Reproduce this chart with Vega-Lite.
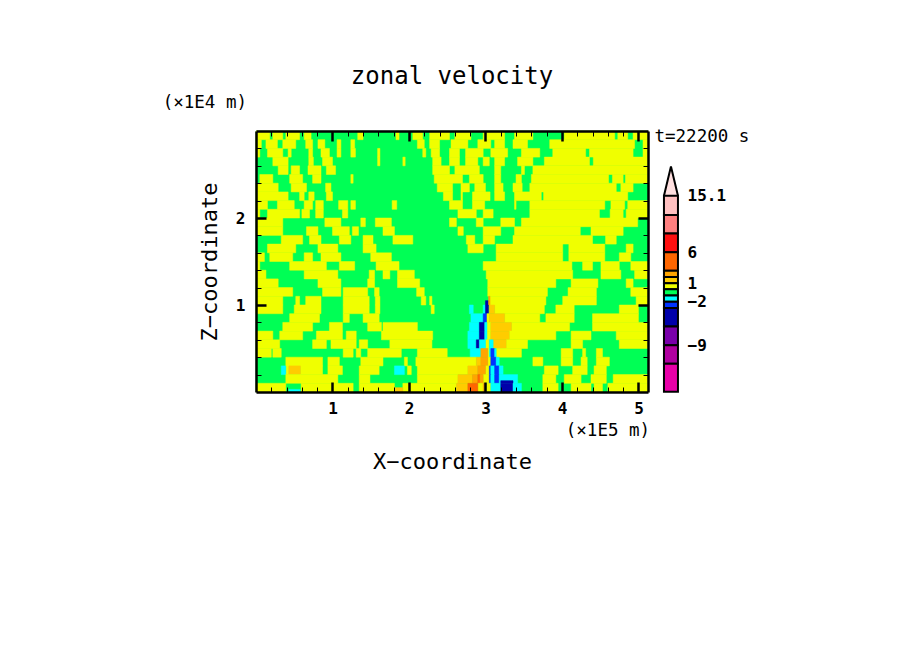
{"$schema":"https://vega.github.io/schema/vega-lite/v6.json","width":392,"height":261,"autosize":{"type":"none"},"padding":{"left":256,"top":131,"right":256,"bottom":262},"background":"white","config":{"view":{"stroke":null},"axis":{"grid":false,"labelFont":"DejaVu Sans Mono","titleFont":"DejaVu Sans Mono","labelColor":"black","titleColor":"black","tickColor":"black","domainColor":"black","labelFontWeight":"bold"}},"title":{"text":"zonal velocity","font":"DejaVu Sans Mono","fontSize":24,"fontWeight":"normal","anchor":"middle","offset":5,"color":"black"},"datasets":{"field":[
{"x0":0,"x1":5.125,"z0":0,"z1":3,"u":-0.5},
{"x0":0,"x1":0.18,"z0":2.9,"z1":3,"u":0.5},{"x0":0.22,"x1":0.35,"z0":2.9,"z1":3,"u":0.5},{"x0":0.39,"x1":0.57,"z0":2.9,"z1":3,"u":0.5},{"x0":0.63,"x1":0.72,"z0":2.9,"z1":3,"u":0.5},{"x0":1.33,"x1":1.4,"z0":2.9,"z1":3,"u":0.5},{"x0":1.83,"x1":1.87,"z0":2.9,"z1":3,"u":0.5},{"x0":2.05,"x1":2.18,"z0":2.9,"z1":3,"u":0.5},{"x0":2.27,"x1":2.53,"z0":2.9,"z1":3,"u":0.5},{"x0":2.6,"x1":2.81,"z0":2.9,"z1":3,"u":0.5},{"x0":2.97,"x1":3.25,"z0":2.9,"z1":3,"u":0.5},{"x0":3.38,"x1":3.62,"z0":2.9,"z1":3,"u":0.5},{"x0":4.03,"x1":4.69,"z0":2.9,"z1":3,"u":0.5},{"x0":4.73,"x1":4.86,"z0":2.9,"z1":3,"u":0.5},{"x0":4.93,"x1":5.125,"z0":2.9,"z1":3,"u":0.5},
{"x0":0,"x1":0.07,"z0":2.8,"z1":2.9,"u":0.5},{"x0":0.13,"x1":0.28,"z0":2.8,"z1":2.9,"u":0.5},{"x0":0.35,"x1":0.52,"z0":2.8,"z1":2.9,"u":0.5},{"x0":0.65,"x1":0.74,"z0":2.8,"z1":2.9,"u":0.5},{"x0":0.81,"x1":0.9,"z0":2.8,"z1":2.9,"u":0.5},{"x0":1.06,"x1":1.11,"z0":2.8,"z1":2.9,"u":0.5},{"x0":1.24,"x1":1.29,"z0":2.8,"z1":2.9,"u":0.5},{"x0":2.11,"x1":2.2,"z0":2.8,"z1":2.9,"u":0.5},{"x0":2.27,"x1":2.4,"z0":2.8,"z1":2.9,"u":0.5},{"x0":2.55,"x1":2.77,"z0":2.8,"z1":2.9,"u":0.5},{"x0":2.9,"x1":3.07,"z0":2.8,"z1":2.9,"u":0.5},{"x0":3.12,"x1":3.25,"z0":2.8,"z1":2.9,"u":0.5},{"x0":3.36,"x1":3.55,"z0":2.8,"z1":2.9,"u":0.5},{"x0":3.84,"x1":4.95,"z0":2.8,"z1":2.9,"u":0.5},{"x0":5.06,"x1":5.125,"z0":2.8,"z1":2.9,"u":0.5},
{"x0":0,"x1":0.05,"z0":2.7,"z1":2.8,"u":0.5},{"x0":0.15,"x1":0.35,"z0":2.7,"z1":2.8,"u":0.5},{"x0":0.42,"x1":0.46,"z0":2.7,"z1":2.8,"u":0.5},{"x0":0.69,"x1":0.74,"z0":2.7,"z1":2.8,"u":0.5},{"x0":0.85,"x1":0.96,"z0":2.7,"z1":2.8,"u":0.5},{"x0":1.06,"x1":1.11,"z0":2.7,"z1":2.8,"u":0.5},{"x0":1.24,"x1":1.3,"z0":2.7,"z1":2.8,"u":0.5},{"x0":1.59,"x1":1.62,"z0":2.7,"z1":2.8,"u":0.5},{"x0":2.18,"x1":2.22,"z0":2.7,"z1":2.8,"u":0.5},{"x0":2.29,"x1":2.4,"z0":2.7,"z1":2.8,"u":0.5},{"x0":2.53,"x1":2.66,"z0":2.7,"z1":2.8,"u":0.5},{"x0":2.74,"x1":2.97,"z0":2.7,"z1":2.8,"u":0.5},{"x0":3.07,"x1":3.29,"z0":2.7,"z1":2.8,"u":0.5},{"x0":3.47,"x1":3.71,"z0":2.7,"z1":2.8,"u":0.5},{"x0":3.88,"x1":4.31,"z0":2.7,"z1":2.8,"u":0.5},{"x0":4.36,"x1":4.93,"z0":2.7,"z1":2.8,"u":0.5},{"x0":5.06,"x1":5.125,"z0":2.7,"z1":2.8,"u":0.5},
{"x0":0.22,"x1":0.42,"z0":2.6,"z1":2.7,"u":0.5},{"x0":0.69,"x1":0.75,"z0":2.6,"z1":2.7,"u":0.5},{"x0":0.87,"x1":1,"z0":2.6,"z1":2.7,"u":0.5},{"x0":1.59,"x1":1.62,"z0":2.6,"z1":2.7,"u":0.5},{"x0":1.92,"x1":1.95,"z0":2.6,"z1":2.7,"u":0.5},{"x0":2.31,"x1":2.42,"z0":2.6,"z1":2.7,"u":0.5},{"x0":2.53,"x1":2.66,"z0":2.6,"z1":2.7,"u":0.5},{"x0":2.74,"x1":2.9,"z0":2.6,"z1":2.7,"u":0.5},{"x0":2.97,"x1":3.05,"z0":2.6,"z1":2.7,"u":0.5},{"x0":3.12,"x1":3.25,"z0":2.6,"z1":2.7,"u":0.5},{"x0":3.42,"x1":3.62,"z0":2.6,"z1":2.7,"u":0.5},{"x0":3.77,"x1":4.36,"z0":2.6,"z1":2.7,"u":0.5},{"x0":4.41,"x1":5.125,"z0":2.6,"z1":2.7,"u":0.5},
{"x0":0.29,"x1":0.42,"z0":2.5,"z1":2.6,"u":0.5},{"x0":0.46,"x1":0.57,"z0":2.5,"z1":2.6,"u":0.5},{"x0":0.68,"x1":0.85,"z0":2.5,"z1":2.6,"u":0.5},{"x0":0.92,"x1":1.04,"z0":2.5,"z1":2.6,"u":0.5},{"x0":2.31,"x1":2.53,"z0":2.5,"z1":2.6,"u":0.5},{"x0":2.6,"x1":2.92,"z0":2.5,"z1":2.6,"u":0.5},{"x0":3.12,"x1":3.2,"z0":2.5,"z1":2.6,"u":0.5},{"x0":3.47,"x1":3.51,"z0":2.5,"z1":2.6,"u":0.5},{"x0":3.62,"x1":5.125,"z0":2.5,"z1":2.6,"u":0.5},
{"x0":0.05,"x1":0.22,"z0":2.4,"z1":2.5,"u":0.5},{"x0":0.44,"x1":0.61,"z0":2.4,"z1":2.5,"u":0.5},{"x0":0.74,"x1":0.85,"z0":2.4,"z1":2.5,"u":0.5},{"x0":1.24,"x1":1.27,"z0":2.4,"z1":2.5,"u":0.5},{"x0":2.33,"x1":2.7,"z0":2.4,"z1":2.5,"u":0.5},{"x0":2.79,"x1":2.97,"z0":2.4,"z1":2.5,"u":0.5},{"x0":3.12,"x1":3.2,"z0":2.4,"z1":2.5,"u":0.5},{"x0":3.4,"x1":3.47,"z0":2.4,"z1":2.5,"u":0.5},{"x0":3.6,"x1":4.61,"z0":2.4,"z1":2.5,"u":0.5},{"x0":4.66,"x1":4.8,"z0":2.4,"z1":2.5,"u":0.5},{"x0":4.83,"x1":5.125,"z0":2.4,"z1":2.5,"u":0.5},
{"x0":0,"x1":0.29,"z0":2.3,"z1":2.4,"u":0.5},{"x0":0.46,"x1":0.66,"z0":2.3,"z1":2.4,"u":0.5},{"x0":0.91,"x1":0.98,"z0":2.3,"z1":2.4,"u":0.5},{"x0":2.37,"x1":2.57,"z0":2.3,"z1":2.4,"u":0.5},{"x0":2.68,"x1":2.79,"z0":2.3,"z1":2.4,"u":0.5},{"x0":2.86,"x1":3,"z0":2.3,"z1":2.4,"u":0.5},{"x0":3.12,"x1":3.23,"z0":2.3,"z1":2.4,"u":0.5},{"x0":3.36,"x1":3.48,"z0":2.3,"z1":2.4,"u":0.5},{"x0":3.58,"x1":4.71,"z0":2.3,"z1":2.4,"u":0.5},{"x0":4.77,"x1":4.93,"z0":2.3,"z1":2.4,"u":0.5},
{"x0":0,"x1":0.42,"z0":2.2,"z1":2.3,"u":0.5},{"x0":0.57,"x1":0.63,"z0":2.2,"z1":2.3,"u":0.5},{"x0":0.69,"x1":0.76,"z0":2.2,"z1":2.3,"u":0.5},{"x0":0.92,"x1":1,"z0":2.2,"z1":2.3,"u":0.5},{"x0":2.45,"x1":2.57,"z0":2.2,"z1":2.3,"u":0.5},{"x0":2.68,"x1":2.7,"z0":2.2,"z1":2.3,"u":0.5},{"x0":2.83,"x1":3.06,"z0":2.2,"z1":2.3,"u":0.5},{"x0":3.12,"x1":3.25,"z0":2.2,"z1":2.3,"u":0.5},{"x0":3.38,"x1":3.73,"z0":2.2,"z1":2.3,"u":0.5},{"x0":3.76,"x1":4.86,"z0":2.2,"z1":2.3,"u":0.5},
{"x0":0,"x1":0.15,"z0":2.1,"z1":2.2,"u":0.5},{"x0":0.28,"x1":0.5,"z0":2.1,"z1":2.2,"u":0.5},{"x0":0.63,"x1":0.74,"z0":2.1,"z1":2.2,"u":0.5},{"x0":0.78,"x1":0.88,"z0":2.1,"z1":2.2,"u":0.5},{"x0":1.08,"x1":1.2,"z0":2.1,"z1":2.2,"u":0.5},{"x0":1.24,"x1":1.3,"z0":2.1,"z1":2.2,"u":0.5},{"x0":1.78,"x1":1.84,"z0":2.1,"z1":2.2,"u":0.5},{"x0":2.53,"x1":2.7,"z0":2.1,"z1":2.2,"u":0.5},{"x0":2.83,"x1":2.99,"z0":2.1,"z1":2.2,"u":0.5},{"x0":3.38,"x1":3.4,"z0":2.1,"z1":2.2,"u":0.5},{"x0":3.58,"x1":4.56,"z0":2.1,"z1":2.2,"u":0.5},{"x0":4.64,"x1":4.82,"z0":2.1,"z1":2.2,"u":0.5},{"x0":4.86,"x1":5.125,"z0":2.1,"z1":2.2,"u":0.5},
{"x0":0,"x1":0.05,"z0":2,"z1":2.1,"u":0.5},{"x0":0.15,"x1":0.57,"z0":2,"z1":2.1,"u":0.5},{"x0":0.6,"x1":0.7,"z0":2,"z1":2.1,"u":0.5},{"x0":0.78,"x1":0.88,"z0":2,"z1":2.1,"u":0.5},{"x0":1.13,"x1":1.2,"z0":2,"z1":2.1,"u":0.5},{"x0":2.64,"x1":2.88,"z0":2,"z1":2.1,"u":0.5},{"x0":2.97,"x1":3.1,"z0":2,"z1":2.1,"u":0.5},{"x0":3.58,"x1":4.49,"z0":2,"z1":2.1,"u":0.5},{"x0":4.63,"x1":4.8,"z0":2,"z1":2.1,"u":0.5},{"x0":4.84,"x1":5.125,"z0":2,"z1":2.1,"u":0.5},
{"x0":0,"x1":0.35,"z0":1.9,"z1":2,"u":0.5},{"x0":0.9,"x1":1.11,"z0":1.9,"z1":2,"u":0.5},{"x0":1.37,"x1":1.43,"z0":1.9,"z1":2,"u":0.5},{"x0":1.56,"x1":1.77,"z0":1.9,"z1":2,"u":0.5},{"x0":2.53,"x1":2.62,"z0":1.9,"z1":2,"u":0.5},{"x0":2.88,"x1":2.97,"z0":1.9,"z1":2,"u":0.5},{"x0":3.2,"x1":3.38,"z0":1.9,"z1":2,"u":0.5},{"x0":3.47,"x1":4.99,"z0":1.9,"z1":2,"u":0.5},
{"x0":0,"x1":0.35,"z0":1.8,"z1":1.9,"u":0.5},{"x0":0.66,"x1":0.81,"z0":1.8,"z1":1.9,"u":0.5},{"x0":1,"x1":1.22,"z0":1.8,"z1":1.9,"u":0.5},{"x0":1.26,"x1":1.34,"z0":1.8,"z1":1.9,"u":0.5},{"x0":1.66,"x1":1.81,"z0":1.8,"z1":1.9,"u":0.5},{"x0":2.64,"x1":2.71,"z0":1.8,"z1":1.9,"u":0.5},{"x0":2.97,"x1":3.2,"z0":1.8,"z1":1.9,"u":0.5},{"x0":3.38,"x1":4.24,"z0":1.8,"z1":1.9,"u":0.5},{"x0":4.38,"x1":4.8,"z0":1.8,"z1":1.9,"u":0.5},
{"x0":0.33,"x1":0.61,"z0":1.7,"z1":1.8,"u":0.5},{"x0":0.7,"x1":0.85,"z0":1.7,"z1":1.8,"u":0.5},{"x0":1.09,"x1":1.24,"z0":1.7,"z1":1.8,"u":0.5},{"x0":1.4,"x1":1.53,"z0":1.7,"z1":1.8,"u":0.5},{"x0":1.79,"x1":2.05,"z0":1.7,"z1":1.8,"u":0.5},{"x0":2.75,"x1":2.86,"z0":1.7,"z1":1.8,"u":0.5},{"x0":2.97,"x1":3.12,"z0":1.7,"z1":1.8,"u":0.5},{"x0":3.36,"x1":4.4,"z0":1.7,"z1":1.8,"u":0.5},{"x0":4.57,"x1":4.71,"z0":1.7,"z1":1.8,"u":0.5},
{"x0":0.15,"x1":0.52,"z0":1.6,"z1":1.7,"u":0.5},{"x0":0.81,"x1":1.07,"z0":1.6,"z1":1.7,"u":0.5},{"x0":1.4,"x1":1.57,"z0":1.6,"z1":1.7,"u":0.5},{"x0":2.77,"x1":2.97,"z0":1.6,"z1":1.7,"u":0.5},{"x0":3.14,"x1":4.01,"z0":1.6,"z1":1.7,"u":0.5},{"x0":4.09,"x1":4.56,"z0":1.6,"z1":1.7,"u":0.5},{"x0":4.84,"x1":4.93,"z0":1.6,"z1":1.7,"u":0.5},
{"x0":0,"x1":0.11,"z0":1.5,"z1":1.6,"u":0.5},{"x0":0.18,"x1":0.48,"z0":1.5,"z1":1.6,"u":0.5},{"x0":0.63,"x1":0.74,"z0":1.5,"z1":1.6,"u":0.5},{"x0":0.85,"x1":1.11,"z0":1.5,"z1":1.6,"u":0.5},{"x0":1.5,"x1":1.77,"z0":1.5,"z1":1.6,"u":0.5},{"x0":3.14,"x1":4.01,"z0":1.5,"z1":1.6,"u":0.5},{"x0":4.09,"x1":4.56,"z0":1.5,"z1":1.6,"u":0.5},{"x0":4.75,"x1":4.9,"z0":1.5,"z1":1.6,"u":0.5},
{"x0":0,"x1":0.05,"z0":1.4,"z1":1.5,"u":0.5},{"x0":0.44,"x1":0.92,"z0":1.4,"z1":1.5,"u":0.5},{"x0":1.09,"x1":1.29,"z0":1.4,"z1":1.5,"u":0.5},{"x0":1.57,"x1":1.87,"z0":1.4,"z1":1.5,"u":0.5},{"x0":2.97,"x1":4.13,"z0":1.4,"z1":1.5,"u":0.5},{"x0":4.27,"x1":4.4,"z0":1.4,"z1":1.5,"u":0.5},{"x0":4.51,"x1":4.75,"z0":1.4,"z1":1.5,"u":0.5},{"x0":4.9,"x1":5.125,"z0":1.4,"z1":1.5,"u":0.5},
{"x0":0,"x1":0.13,"z0":1.3,"z1":1.4,"u":0.5},{"x0":0.63,"x1":1.07,"z0":1.3,"z1":1.4,"u":0.5},{"x0":1.48,"x1":1.55,"z0":1.3,"z1":1.4,"u":0.5},{"x0":1.66,"x1":1.75,"z0":1.3,"z1":1.4,"u":0.5},{"x0":1.85,"x1":2.07,"z0":1.3,"z1":1.4,"u":0.5},{"x0":3.01,"x1":4.14,"z0":1.3,"z1":1.4,"u":0.5},{"x0":4.51,"x1":4.77,"z0":1.3,"z1":1.4,"u":0.5},{"x0":4.95,"x1":5.125,"z0":1.3,"z1":1.4,"u":0.5},
{"x0":0,"x1":0.29,"z0":1.2,"z1":1.3,"u":0.5},{"x0":0.81,"x1":1.11,"z0":1.2,"z1":1.3,"u":0.5},{"x0":1.46,"x1":1.55,"z0":1.2,"z1":1.3,"u":0.5},{"x0":1.85,"x1":2.14,"z0":1.2,"z1":1.3,"u":0.5},{"x0":3.03,"x1":3.92,"z0":1.2,"z1":1.3,"u":0.5},{"x0":4.12,"x1":4.47,"z0":1.2,"z1":1.3,"u":0.5},{"x0":4.84,"x1":4.93,"z0":1.2,"z1":1.3,"u":0.5},
{"x0":0,"x1":0.48,"z0":1.1,"z1":1.2,"u":0.5},{"x0":0.87,"x1":1.11,"z0":1.1,"z1":1.2,"u":0.5},{"x0":1.14,"x1":1.46,"z0":1.1,"z1":1.2,"u":0.5},{"x0":1.55,"x1":1.61,"z0":1.1,"z1":1.2,"u":0.5},{"x0":2.1,"x1":2.2,"z0":1.1,"z1":1.2,"u":0.5},{"x0":3.03,"x1":3.81,"z0":1.1,"z1":1.2,"u":0.5},{"x0":4.08,"x1":4.45,"z0":1.1,"z1":1.2,"u":0.5},{"x0":4.9,"x1":5.125,"z0":1.1,"z1":1.2,"u":0.5},
{"x0":0,"x1":0.35,"z0":1,"z1":1.1,"u":0.5},{"x0":0.52,"x1":0.57,"z0":1,"z1":1.1,"u":0.5},{"x0":0.65,"x1":0.85,"z0":1,"z1":1.1,"u":0.5},{"x0":1.14,"x1":1.48,"z0":1,"z1":1.1,"u":0.5},{"x0":1.56,"x1":1.62,"z0":1,"z1":1.1,"u":0.5},{"x0":2.16,"x1":2.22,"z0":1,"z1":1.1,"u":0.5},{"x0":2.27,"x1":2.3,"z0":1,"z1":1.1,"u":0.5},{"x0":3.05,"x1":3.79,"z0":1,"z1":1.1,"u":0.5},{"x0":4.01,"x1":4.45,"z0":1,"z1":1.1,"u":0.5},{"x0":4.97,"x1":5.125,"z0":1,"z1":1.1,"u":0.5},{"x0":3,"x1":3.04,"z0":1,"z1":1.05,"u":-4},{"x0":3.04,"x1":3.06,"z0":1,"z1":1.1,"u":2.5},
{"x0":0,"x1":0.35,"z0":0.9,"z1":1,"u":0.5},{"x0":0.5,"x1":0.85,"z0":0.9,"z1":1,"u":0.5},{"x0":1.14,"x1":1.48,"z0":0.9,"z1":1,"u":0.5},{"x0":1.56,"x1":1.62,"z0":0.9,"z1":1,"u":0.5},{"x0":2.29,"x1":2.33,"z0":0.9,"z1":1,"u":0.5},{"x0":3.12,"x1":3.77,"z0":0.9,"z1":1,"u":0.5},{"x0":3.92,"x1":4.16,"z0":0.9,"z1":1,"u":0.5},{"x0":4.75,"x1":5,"z0":0.9,"z1":1,"u":0.5},{"x0":2.79,"x1":2.84,"z0":0.9,"z1":1,"u":-1.5},{"x0":2.97,"x1":3,"z0":0.9,"z1":1,"u":-1.5},{"x0":3,"x1":3.04,"z0":0.9,"z1":1,"u":-4},{"x0":3.05,"x1":3.12,"z0":0.9,"z1":1,"u":1.5},
{"x0":0.44,"x1":0.83,"z0":0.8,"z1":0.9,"u":0.5},{"x0":1.14,"x1":1.22,"z0":0.8,"z1":0.9,"u":0.5},{"x0":1.4,"x1":1.61,"z0":0.8,"z1":0.9,"u":0.5},{"x0":3.25,"x1":3.71,"z0":0.8,"z1":0.9,"u":0.5},{"x0":3.79,"x1":4.16,"z0":0.8,"z1":0.9,"u":0.5},{"x0":4.4,"x1":5,"z0":0.8,"z1":0.9,"u":0.5},{"x0":2.81,"x1":2.97,"z0":0.8,"z1":0.9,"u":-1.5},{"x0":2.97,"x1":3.02,"z0":0.8,"z1":0.9,"u":-2.5},{"x0":3.02,"x1":3.05,"z0":0.8,"z1":0.9,"u":0.5},{"x0":3.05,"x1":3.25,"z0":0.8,"z1":0.9,"u":1.5},
{"x0":0.35,"x1":0.74,"z0":0.7,"z1":0.8,"u":0.5},{"x0":0.96,"x1":1.13,"z0":0.7,"z1":0.8,"u":0.5},{"x0":1.46,"x1":1.64,"z0":0.7,"z1":0.8,"u":0.5},{"x0":1.66,"x1":2.11,"z0":0.7,"z1":0.8,"u":0.5},{"x0":3.02,"x1":3.07,"z0":0.7,"z1":0.8,"u":0.5},{"x0":3.34,"x1":4.1,"z0":0.7,"z1":0.8,"u":0.5},{"x0":4.4,"x1":5.125,"z0":0.7,"z1":0.8,"u":0.5},{"x0":3.07,"x1":3.34,"z0":0.7,"z1":0.8,"u":1.5},{"x0":2.79,"x1":2.92,"z0":0.7,"z1":0.8,"u":-1.5},{"x0":2.92,"x1":2.99,"z0":0.7,"z1":0.8,"u":-4},{"x0":2.99,"x1":3.02,"z0":0.7,"z1":0.8,"u":-1.5},
{"x0":0,"x1":0.22,"z0":0.6,"z1":0.7,"u":0.5},{"x0":0.31,"x1":0.61,"z0":0.6,"z1":0.7,"u":0.5},{"x0":0.79,"x1":1.13,"z0":0.6,"z1":0.7,"u":0.5},{"x0":1.18,"x1":1.31,"z0":0.6,"z1":0.7,"u":0.5},{"x0":1.64,"x1":2.31,"z0":0.6,"z1":0.7,"u":0.5},{"x0":3.02,"x1":3.07,"z0":0.6,"z1":0.7,"u":0.5},{"x0":3.31,"x1":3.92,"z0":0.6,"z1":0.7,"u":0.5},{"x0":4.12,"x1":4.38,"z0":0.6,"z1":0.7,"u":0.5},{"x0":4.71,"x1":5.125,"z0":0.6,"z1":0.7,"u":0.5},{"x0":3.07,"x1":3.31,"z0":0.6,"z1":0.7,"u":1.5},{"x0":2.77,"x1":2.92,"z0":0.6,"z1":0.7,"u":-1.5},{"x0":2.92,"x1":2.99,"z0":0.6,"z1":0.7,"u":-4},{"x0":2.99,"x1":3.02,"z0":0.6,"z1":0.7,"u":-1.5},
{"x0":0,"x1":0.31,"z0":0.5,"z1":0.6,"u":0.5},{"x0":0.74,"x1":0.92,"z0":0.5,"z1":0.6,"u":0.5},{"x0":0.98,"x1":1.31,"z0":0.5,"z1":0.6,"u":0.5},{"x0":1.35,"x1":1.46,"z0":0.5,"z1":0.6,"u":0.5},{"x0":1.75,"x1":2.3,"z0":0.5,"z1":0.6,"u":0.5},{"x0":3,"x1":3.05,"z0":0.5,"z1":0.6,"u":0.5},{"x0":3.27,"x1":3.55,"z0":0.5,"z1":0.6,"u":0.5},{"x0":4.12,"x1":4.27,"z0":0.5,"z1":0.6,"u":0.5},{"x0":4.75,"x1":5.125,"z0":0.5,"z1":0.6,"u":0.5},{"x0":3.1,"x1":3.27,"z0":0.5,"z1":0.6,"u":1.5},{"x0":2.77,"x1":2.88,"z0":0.5,"z1":0.6,"u":-1.5},{"x0":2.88,"x1":2.92,"z0":0.5,"z1":0.6,"u":-4},{"x0":2.92,"x1":3,"z0":0.5,"z1":0.6,"u":-1.5},{"x0":3.05,"x1":3.1,"z0":0.5,"z1":0.6,"u":-1.5},
{"x0":0,"x1":0.2,"z0":0.4,"z1":0.5,"u":0.5},{"x0":0.22,"x1":0.33,"z0":0.4,"z1":0.5,"u":0.5},{"x0":1.14,"x1":1.27,"z0":0.4,"z1":0.5,"u":0.5},{"x0":1.31,"x1":1.37,"z0":0.4,"z1":0.5,"u":0.5},{"x0":1.46,"x1":1.9,"z0":0.4,"z1":0.5,"u":0.5},{"x0":2.11,"x1":2.5,"z0":0.4,"z1":0.5,"u":0.5},{"x0":3.03,"x1":3.05,"z0":0.4,"z1":0.5,"u":0.5},{"x0":3.14,"x1":3.47,"z0":0.4,"z1":0.5,"u":0.5},{"x0":3.99,"x1":4.14,"z0":0.4,"z1":0.5,"u":0.5},{"x0":4.27,"x1":4.31,"z0":0.4,"z1":0.5,"u":0.5},{"x0":4.45,"x1":4.53,"z0":0.4,"z1":0.5,"u":0.5},{"x0":2.8,"x1":2.94,"z0":0.4,"z1":0.5,"u":-1.5},{"x0":2.94,"x1":3.03,"z0":0.4,"z1":0.5,"u":2.5},{"x0":3.05,"x1":3.07,"z0":0.4,"z1":0.5,"u":-1.5},{"x0":3.07,"x1":3.12,"z0":0.4,"z1":0.5,"u":-2.5},{"x0":3.12,"x1":3.14,"z0":0.4,"z1":0.5,"u":-1.5},
{"x0":0.39,"x1":0.87,"z0":0.3,"z1":0.4,"u":0.5},{"x0":0.94,"x1":1.09,"z0":0.3,"z1":0.4,"u":0.5},{"x0":1.37,"x1":1.66,"z0":0.3,"z1":0.4,"u":0.5},{"x0":1.94,"x1":1.98,"z0":0.3,"z1":0.4,"u":0.5},{"x0":2.09,"x1":2.88,"z0":0.3,"z1":0.4,"u":0.5},{"x0":3.03,"x1":3.07,"z0":0.3,"z1":0.4,"u":0.5},{"x0":3.62,"x1":3.75,"z0":0.3,"z1":0.4,"u":0.5},{"x0":3.99,"x1":4.14,"z0":0.3,"z1":0.4,"u":0.5},{"x0":4.25,"x1":4.33,"z0":0.3,"z1":0.4,"u":0.5},{"x0":4.45,"x1":4.62,"z0":0.3,"z1":0.4,"u":0.5},{"x0":2.88,"x1":2.94,"z0":0.3,"z1":0.4,"u":1.5},{"x0":2.94,"x1":3.03,"z0":0.3,"z1":0.4,"u":2.5},{"x0":3.07,"x1":3.14,"z0":0.3,"z1":0.4,"u":-2.5},{"x0":3.14,"x1":3.18,"z0":0.3,"z1":0.4,"u":-1.5},
{"x0":0.39,"x1":0.43,"z0":0.2,"z1":0.3,"u":0.5},{"x0":0.58,"x1":0.87,"z0":0.2,"z1":0.3,"u":0.5},{"x0":0.94,"x1":1.13,"z0":0.2,"z1":0.3,"u":0.5},{"x0":1.35,"x1":1.61,"z0":0.2,"z1":0.3,"u":0.5},{"x0":1.98,"x1":2.03,"z0":0.2,"z1":0.3,"u":0.5},{"x0":2.11,"x1":2.77,"z0":0.2,"z1":0.3,"u":0.5},{"x0":3,"x1":3.05,"z0":0.2,"z1":0.3,"u":0.5},{"x0":3.77,"x1":3.95,"z0":0.2,"z1":0.3,"u":0.5},{"x0":4.14,"x1":4.33,"z0":0.2,"z1":0.3,"u":0.5},{"x0":4.42,"x1":4.58,"z0":0.2,"z1":0.3,"u":0.5},{"x0":0.43,"x1":0.58,"z0":0.2,"z1":0.3,"u":1.5},{"x0":0.33,"x1":0.39,"z0":0.2,"z1":0.3,"u":-1.5},{"x0":1.81,"x1":1.94,"z0":0.2,"z1":0.3,"u":-1.5},{"x0":2.77,"x1":2.9,"z0":0.2,"z1":0.3,"u":1.5},{"x0":2.9,"x1":3,"z0":0.2,"z1":0.3,"u":2.5},{"x0":3.05,"x1":3.07,"z0":0.2,"z1":0.3,"u":-2.5},{"x0":3.07,"x1":3.12,"z0":0.2,"z1":0.3,"u":-1.5},{"x0":3.12,"x1":3.18,"z0":0.2,"z1":0.3,"u":-2.5},{"x0":3.18,"x1":3.23,"z0":0.2,"z1":0.3,"u":-1.5},
{"x0":0.39,"x1":1.07,"z0":0.1,"z1":0.2,"u":0.5},{"x0":1.35,"x1":1.49,"z0":0.1,"z1":0.2,"u":0.5},{"x0":2.11,"x1":2.64,"z0":0.1,"z1":0.2,"u":0.5},{"x0":2.97,"x1":3.05,"z0":0.1,"z1":0.2,"u":0.5},{"x0":3.75,"x1":3.92,"z0":0.1,"z1":0.2,"u":0.5},{"x0":4.03,"x1":4.25,"z0":0.1,"z1":0.2,"u":0.5},{"x0":4.38,"x1":4.58,"z0":0.1,"z1":0.2,"u":0.5},{"x0":4.67,"x1":5.125,"z0":0.1,"z1":0.2,"u":0.5},{"x0":2.64,"x1":2.83,"z0":0.1,"z1":0.2,"u":1.5},{"x0":2.83,"x1":2.9,"z0":0.1,"z1":0.2,"u":2.5},{"x0":2.9,"x1":2.93,"z0":0.1,"z1":0.2,"u":4},{"x0":2.93,"x1":2.97,"z0":0.1,"z1":0.2,"u":2.5},{"x0":3.05,"x1":3.07,"z0":0.1,"z1":0.2,"u":-2.5},{"x0":3.07,"x1":3.12,"z0":0.1,"z1":0.2,"u":-1.5},{"x0":3.12,"x1":3.18,"z0":0.1,"z1":0.2,"u":-2.5},{"x0":3.18,"x1":3.42,"z0":0.1,"z1":0.2,"u":-1.5},{"x0":3.2,"x1":3.36,"z0":0.1,"z1":0.13,"u":-4},
{"x0":0,"x1":0.39,"z0":0,"z1":0.1,"u":0.5},{"x0":0.59,"x1":1.27,"z0":0,"z1":0.1,"u":0.5},{"x0":1.35,"x1":1.81,"z0":0,"z1":0.1,"u":0.5},{"x0":1.92,"x1":2.62,"z0":0,"z1":0.1,"u":0.5},{"x0":2.9,"x1":2.97,"z0":0,"z1":0.1,"u":0.5},{"x0":3.01,"x1":3.07,"z0":0,"z1":0.1,"u":0.5},{"x0":3.75,"x1":3.95,"z0":0,"z1":0.1,"u":0.5},{"x0":4.12,"x1":4.38,"z0":0,"z1":0.1,"u":0.5},{"x0":4.42,"x1":4.53,"z0":0,"z1":0.1,"u":0.5},{"x0":4.6,"x1":5.125,"z0":0,"z1":0.1,"u":0.5},{"x0":0.43,"x1":0.58,"z0":0,"z1":0.03,"u":-1.5},{"x0":1.81,"x1":1.92,"z0":0,"z1":0.05,"u":1.5},{"x0":2.62,"x1":2.77,"z0":0,"z1":0.1,"u":1.5},{"x0":2.77,"x1":2.9,"z0":0,"z1":0.1,"u":4},{"x0":2.97,"x1":2.99,"z0":0,"z1":0.1,"u":2.5},{"x0":3.07,"x1":3.2,"z0":0,"z1":0.1,"u":-1.5},{"x0":3.2,"x1":3.36,"z0":0,"z1":0.1,"u":-4},{"x0":3.36,"x1":3.47,"z0":0,"z1":0.1,"u":-1.5}
],"bar":[{"lo":12,"hi":15.1,"u":13.5},{"lo":9,"hi":12,"u":10.5},{"lo":6,"hi":9,"u":7.5},{"lo":3,"hi":6,"u":4},{"lo":2,"hi":3,"u":2.5},{"lo":1,"hi":2,"u":1.5},{"lo":0,"hi":1,"u":0.5},{"lo":-1,"hi":0,"u":-0.5},{"lo":-2,"hi":-1,"u":-1.5},{"lo":-3,"hi":-2,"u":-2.5},{"lo":-6,"hi":-3,"u":-4},{"lo":-9,"hi":-6,"u":-7.5},{"lo":-12,"hi":-9,"u":-10.5},{"lo":-16.5,"hi":-12,"u":-14}],"tip":[{"c":0,"v":15.1,"u":17},{"c":0.5,"v":19.8,"u":17},{"c":1,"v":15.1,"u":17}],"notes":[{"x":-1.22,"z":3.32,"label":"(×1E4 m)"},{"x":4.05,"z":-0.45,"label":"(×1E5 m)"},{"x":5.21,"z":2.93,"label":"t=22200 s"}],"origin":[{"x":0,"z":0}]},
"layer":[{"layer":[
{"data":{"name":"field"},"mark":{"type":"rect","strokeWidth":0.5},"encoding":{
"x":{"field":"x0","type":"quantitative","scale":{"domain":[0,5.125],"nice":false,"zero":false},"axis":{"orient":"bottom","values":[1,2,3,4,5],"format":"d","tickSize":-10,"tickWidth":2.5,"domainWidth":2.5,"zindex":1,"labelFontSize":16,"labelPadding":18,"title":"X−coordinate","titleFontSize":22,"titleFontWeight":"normal","titlePadding":35}},
"x2":{"field":"x1"},
"y":{"field":"z0","type":"quantitative","scale":{"domain":[0,3],"nice":false,"zero":false},"axis":{"orient":"left","values":[1,2],"format":"d","tickSize":-10,"tickWidth":2.5,"domainWidth":2.5,"zindex":1,"labelFontSize":16,"labelPadding":21,"title":"Z−coordinate","titleFontSize":22,"titleFontWeight":"normal","titlePadding":14}},
"y2":{"field":"z1"},
"color":{"field":"u","type":"quantitative","legend":null,"scale":{"type":"threshold","domain":[-12,-9,-6,-3,-2,-1,0,1,2,3,6,9,12,15.1],"range":["#e800a8","#b000a0","#7a00aa","#0000aa","#0033ff","#00ffff","#00ff55","#f0ff00","#ffcc00","#ffa500","#ff6600","#ff1010","#ff8080","#ffc0c0","#ffe0e0"]}},
"stroke":{"field":"u","type":"quantitative","legend":null,"scale":{"type":"threshold","domain":[-12,-9,-6,-3,-2,-1,0,1,2,3,6,9,12,15.1],"range":["#e800a8","#b000a0","#7a00aa","#0000aa","#0033ff","#00ffff","#00ff55","#f0ff00","#ffcc00","#ffa500","#ff6600","#ff1010","#ff8080","#ffc0c0","#ffe0e0"]}}}},
{"data":{"name":"origin"},"mark":{"type":"point","opacity":0},"encoding":{
"x":{"field":"x","type":"quantitative","axis":{"orient":"top","values":[1,2,3,4,5],"labels":false,"title":null,"tickSize":-10,"tickWidth":2.5,"domainWidth":2.5,"zindex":1}},
"y":{"field":"z","type":"quantitative","axis":{"orient":"right","values":[1,2],"labels":false,"title":null,"tickSize":-10,"tickWidth":2.5,"domainWidth":2.5,"zindex":1}}}},
{"data":{"name":"origin"},"mark":{"type":"point","opacity":0},"encoding":{
"x":{"field":"x","type":"quantitative","axis":{"orient":"bottom","values":[0.2,0.4,0.6,0.8,1.2,1.4,1.6,1.8,2.2,2.4,2.6,2.8,3.2,3.4,3.6,3.8,4.2,4.4,4.6,4.8,5],"labels":false,"title":null,"domain":false,"tickSize":-5,"tickWidth":1,"zindex":1}},
"y":{"field":"z","type":"quantitative","axis":{"orient":"left","values":[0.2,0.4,0.6,0.8,1.2,1.4,1.6,1.8,2.2,2.4,2.6,2.8],"labels":false,"title":null,"domain":false,"tickSize":-5,"tickWidth":1,"zindex":1}}}},
{"data":{"name":"origin"},"mark":{"type":"point","opacity":0},"encoding":{
"x":{"field":"x","type":"quantitative","axis":{"orient":"top","values":[0.2,0.4,0.6,0.8,1.2,1.4,1.6,1.8,2.2,2.4,2.6,2.8,3.2,3.4,3.6,3.8,4.2,4.4,4.6,4.8,5],"labels":false,"title":null,"domain":false,"tickSize":-5,"tickWidth":1,"zindex":1}},
"y":{"field":"z","type":"quantitative","axis":{"orient":"right","values":[0.2,0.4,0.6,0.8,1.2,1.4,1.6,1.8,2.2,2.4,2.6,2.8],"labels":false,"title":null,"domain":false,"tickSize":-5,"tickWidth":1,"zindex":1}}}},
{"data":{"name":"notes"},"mark":{"type":"text","align":"left","baseline":"middle","font":"DejaVu Sans Mono","fontSize":17.5,"clip":false,"color":"black"},"encoding":{"x":{"field":"x","type":"quantitative","axis":null},"y":{"field":"z","type":"quantitative","axis":null},"text":{"field":"label"}}}
],"resolve":{"axis":{"x":"independent","y":"independent"}}},
{"layer":[
{"data":{"name":"tip"},"mark":{"type":"area"},"encoding":{
"x":{"field":"c","type":"quantitative","axis":null,"scale":{"domain":[-29.14,-1.14],"nice":false,"zero":false}},
"y":{"field":"v","type":"quantitative","scale":{"domain":[-16.55,25.54],"nice":false,"zero":false},"axis":{"orient":"right","values":[15.1,6,1,-2,-9],"labelExpr":"replace(toString(datum.value),'-','−')","title":null,"ticks":false,"domain":false,"offset":30,"labelPadding":9,"labelFontSize":16}},
"y2":{"datum":15.1},
"color":{"field":"u","type":"quantitative","legend":null,"scale":{"type":"threshold","domain":[-12,-9,-6,-3,-2,-1,0,1,2,3,6,9,12,15.1],"range":["#e800a8","#b000a0","#7a00aa","#0000aa","#0033ff","#00ffff","#00ff55","#f0ff00","#ffcc00","#ffa500","#ff6600","#ff1010","#ff8080","#ffc0c0","#ffe0e0"]}}}},
{"data":{"name":"tip"},"mark":{"type":"line","color":"black","strokeWidth":2,"clip":false},"encoding":{
"x":{"field":"c","type":"quantitative","axis":null},
"y":{"field":"v","type":"quantitative","axis":{"orient":"right","values":[15.1,6,1,-2,-9],"labelExpr":"replace(toString(datum.value),'-','−')","title":null,"ticks":false,"domain":false,"offset":30,"labelPadding":9,"labelFontSize":16}}}},
{"data":{"name":"bar"},"mark":{"type":"rect","stroke":"black","strokeWidth":2},"encoding":{
"x":{"datum":0,"type":"quantitative","axis":null},"x2":{"datum":1},
"y":{"field":"lo","type":"quantitative","axis":{"orient":"right","values":[15.1,6,1,-2,-9],"labelExpr":"replace(toString(datum.value),'-','−')","title":null,"ticks":false,"domain":false,"offset":30,"labelPadding":9,"labelFontSize":16}},
"y2":{"field":"hi"},
"color":{"field":"u","type":"quantitative","legend":null,"scale":{"type":"threshold","domain":[-12,-9,-6,-3,-2,-1,0,1,2,3,6,9,12,15.1],"range":["#e800a8","#b000a0","#7a00aa","#0000aa","#0033ff","#00ffff","#00ff55","#f0ff00","#ffcc00","#ffa500","#ff6600","#ff1010","#ff8080","#ffc0c0","#ffe0e0"]}}}}
]}
],"resolve":{"scale":{"x":"independent","y":"independent"},"axis":{"x":"independent","y":"independent"}}}
